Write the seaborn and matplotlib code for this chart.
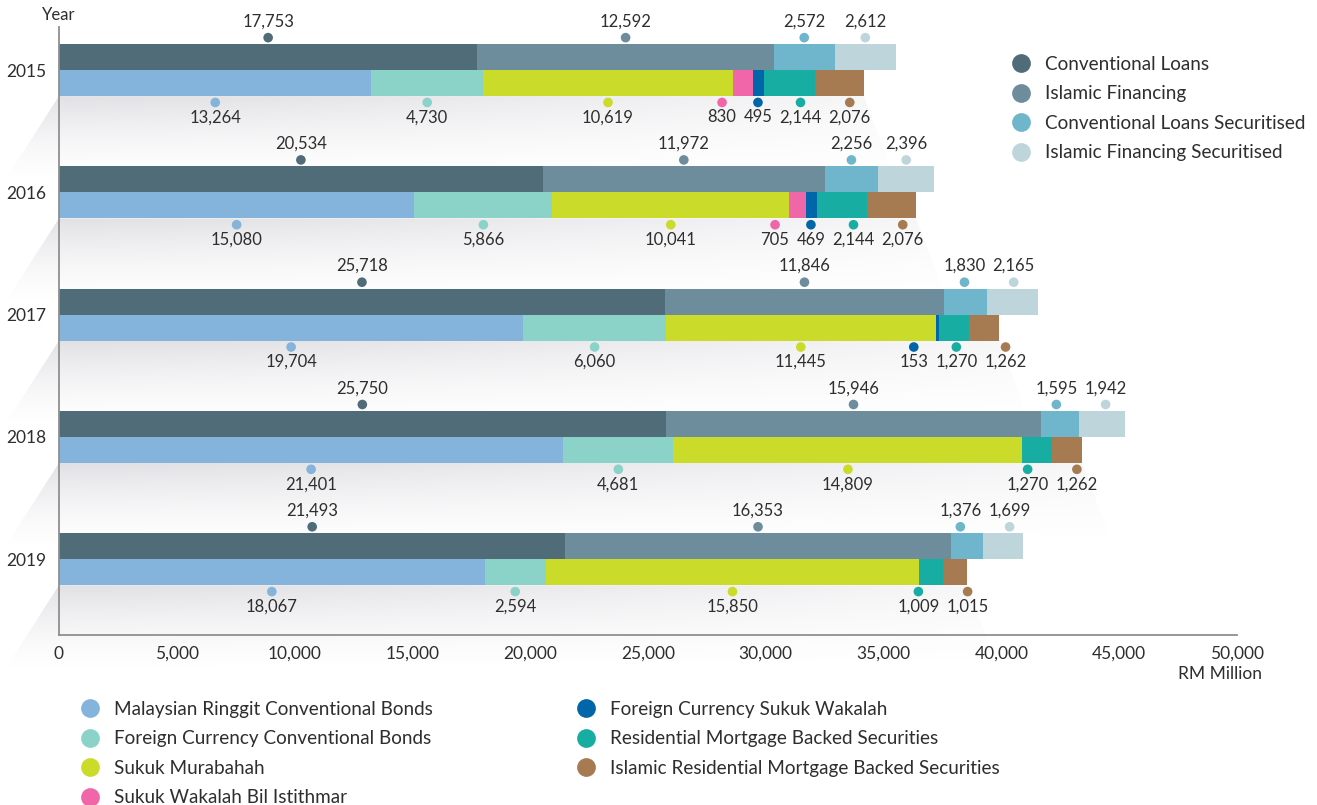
import numpy as np
import pandas as pd
import matplotlib
matplotlib.use("Agg")
import matplotlib.pyplot as plt
from matplotlib.lines import Line2D
from matplotlib.patches import Polygon
import seaborn as sns

years = ["2015", "2016", "2017", "2018", "2019"]

# loans (upper bar of each year), RM million
conv_loans = [17753, 20534, 25718, 25750, 21493]
islamic_fin = [12592, 11972, 11846, 15946, 16353]
conv_loans_sec = [2572, 2256, 1830, 1595, 1376]
islamic_fin_sec = [2612, 2396, 2165, 1942, 1699]

# bonds / sukuk (lower bar of each year)
myr_conv_bonds = [13264, 15080, 19704, 21401, 18067]
fc_conv_bonds = [4730, 5866, 6060, 4681, 2594]
sukuk_murabahah = [10619, 10041, 11445, 14809, 15850]
sukuk_wakalah_bi = [830, 705, 0, 0, 0]
fc_sukuk_wakalah = [495, 469, 153, 0, 0]
rmbs = [2144, 2144, 1270, 1270, 1009]
islamic_rmbs = [2076, 2076, 1262, 1262, 1015]

loan_names = ["Conventional Loans", "Islamic Financing",
              "Conventional Loans Securitised", "Islamic Financing Securitised"]
loan_vals = [conv_loans, islamic_fin, conv_loans_sec, islamic_fin_sec]
loan_colors = ["#516c79", "#6d8c9c", "#6fb5cc", "#bfd5dc"]

bond_names = ["Malaysian Ringgit Conventional Bonds", "Foreign Currency Conventional Bonds",
              "Sukuk Murabahah", "Sukuk Wakalah Bil Istithmar",
              "Foreign Currency Sukuk Wakalah", "Residential Mortgage Backed Securities",
              "Islamic Residential Mortgage Backed Securities"]
bond_vals = [myr_conv_bonds, fc_conv_bonds, sukuk_murabahah, sukuk_wakalah_bi,
             fc_sukuk_wakalah, rmbs, islamic_rmbs]
bond_colors = ["#84b3dc", "#8bd3c9", "#cadb29", "#f066a8", "#0066aa", "#18ada2", "#a67b52"]

sns.set_style("white")
plt.rcParams["font.family"] = ["Lato", "DejaVu Sans"]
txt = "#2e2e2e"
grey = "#8f8f8f"

fig = plt.figure(figsize=(13.17, 8.05), dpi=100)
ax = fig.add_axes([59 / 1317, 170 / 805, 1178 / 1317, 608 / 805])
XMAX = 50000
YLIM = (4.62, -0.352)
ax.set_xlim(0, XMAX)
ax.set_ylim(*YLIM)

bar_h = 0.213
off = bar_h / 2
dot_gap = 0.052

# soft grey "shelf" shading below each pair of bars
ny, nx = 120, 240
v = np.linspace(0, 1, ny)[:, None]
u = np.linspace(0, 1, nx)[None, :]
grad = np.zeros((ny, nx, 4))
grad[..., 0] = 0.50
grad[..., 1] = 0.50
grad[..., 2] = 0.56
grad[..., 3] = 0.24 * (1 - v) ** 1.6 * (1 - 0.75 * u ** 1.5)
for i in range(len(years)):
    yb = i + bar_h
    xr = sum(vals[i] for vals in bond_vals)
    h = 0.72
    poly = Polygon([(0, yb), (xr, yb), (xr + 1400, yb + h), (-2600, yb + h),
                    (-2600, yb + 0.78)], closed=True, transform=ax.transData)
    im = ax.imshow(grad, extent=(-2600, xr + 1400, yb + h, yb), origin="upper",
                   aspect="auto", interpolation="bilinear", zorder=0)
    im.set_clip_path(poly)
    im.set_clip_box(fig.bbox)
ax.set_xlim(0, XMAX)
ax.set_ylim(*YLIM)

# stacked bars
items = []
for i in range(len(years)):
    for names, vals_list, colors, yc, side in [
        (loan_names, loan_vals, loan_colors, i - off, "top"),
        (bond_names, bond_vals, bond_colors, i + off, "bottom"),
    ]:
        left = 0
        for name, vals, col in zip(names, vals_list, colors):
            val = vals[i]
            if val > 0:
                ax.barh(yc, val, left=left, height=bar_h, color=col, linewidth=0, zorder=2)
                dy = yc - off - dot_gap if side == "top" else yc + off + dot_gap
                items.append(dict(row=(i, side), series=name, value=val,
                                  x=left + val / 2, y=dy, color=col, side=side))
            left += val

# value labels, spread apart where they would collide
texts = []
for it in items:
    if it["side"] == "top":
        t = ax.annotate(f"{it['value']:,}", (it["x"], it["y"]), xytext=(0, 8),
                        textcoords="offset points", ha="center", va="baseline",
                        fontsize=12, color=txt, zorder=5)
    else:
        t = ax.annotate(f"{it['value']:,}", (it["x"], it["y"]), xytext=(0, -5),
                        textcoords="offset points", ha="center", va="top",
                        fontsize=12, color=txt, zorder=5)
    texts.append(t)

fig.canvas.draw()
renderer = fig.canvas.get_renderer()
widths = [t.get_window_extent(renderer).width for t in texts]


def spread(centers, ws, gap=7, iters=300):
    c = list(centers)
    for _ in range(iters):
        moved = False
        for k in range(len(c) - 1):
            need = (ws[k] + ws[k + 1]) / 2 + gap
            d = c[k + 1] - c[k]
            if d < need - 0.01:
                push = (need - d) / 2
                c[k] -= push
                c[k + 1] += push
                moved = True
        if not moved:
            break
    return c


df = pd.DataFrame(items)
df["w"] = widths
df["px"] = [ax.transData.transform((x, y))[0] for x, y in zip(df.x, df.y)]
for row, grp in df.groupby("row"):
    grp = grp.sort_values("px")
    newpx = spread(grp.px.tolist(), grp.w.tolist())
    for idx, p in zip(grp.index, newpx):
        df.loc[idx, "x"] = ax.transData.inverted().transform((p, 0))[0]
for idx, t in zip(df.index, texts):
    t.xy = (df.loc[idx, "x"], df.loc[idx, "y"])

palette = dict(zip(loan_names + bond_names, loan_colors + bond_colors))
sns.scatterplot(data=df, x="x", y="y", hue="series", palette=palette, s=48,
                linewidth=0, legend=False, ax=ax, zorder=4)

ax.set_xlim(0, XMAX)
ax.set_ylim(*YLIM)
ax.set_xlabel("")
ax.set_ylabel("")

# axes styling
for s in ["top", "right"]:
    ax.spines[s].set_visible(False)
for s in ["left", "bottom"]:
    ax.spines[s].set_color(grey)
    ax.spines[s].set_linewidth(1.3)
ax.set_xticks(np.arange(0, XMAX + 1, 5000))
ax.set_xticklabels([f"{x:,}" for x in range(0, XMAX + 1, 5000)])
ax.tick_params(axis="x", direction="in", length=9, width=1.3, color=grey,
               labelsize=12.5, labelcolor=txt, pad=8)
ax.set_yticks(range(len(years)))
ax.set_yticklabels(years)
ax.tick_params(axis="y", length=0, labelsize=12.5, labelcolor=txt, pad=9)

ax.annotate("Year", (0, 1), xycoords="axes fraction", xytext=(0, 3),
            textcoords="offset points", ha="center", va="bottom", fontsize=12, color=txt)
ax.text(1.0213, -0.064, "RM Million", transform=ax.transAxes, ha="right", va="center",
        fontsize=12.5, color=txt)

# legends
def handles(names, colors):
    return [Line2D([], [], marker="o", linestyle="", markersize=13.5, markerfacecolor=c,
                   markeredgewidth=0, label=n) for n, c in zip(names, colors)]

leg_kw = dict(frameon=False, fontsize=13.6, borderpad=0, borderaxespad=0, handlelength=1.0,
              handletextpad=0.75, labelspacing=0.66, labelcolor=txt)
fig.legend(handles=handles(loan_names, loan_colors), loc="upper left",
           bbox_to_anchor=(1012 / 1317, 1 - 56 / 805), **leg_kw)
fig.legend(handles=handles(bond_names[:4], bond_colors[:4]), loc="upper left",
           bbox_to_anchor=(81 / 1317, 1 - 701 / 805), **leg_kw)
fig.legend(handles=handles(bond_names[4:], bond_colors[4:]), loc="upper left",
           bbox_to_anchor=(577 / 1317, 1 - 701 / 805), **leg_kw)

fig.savefig("out.png", dpi=100, facecolor="white")
